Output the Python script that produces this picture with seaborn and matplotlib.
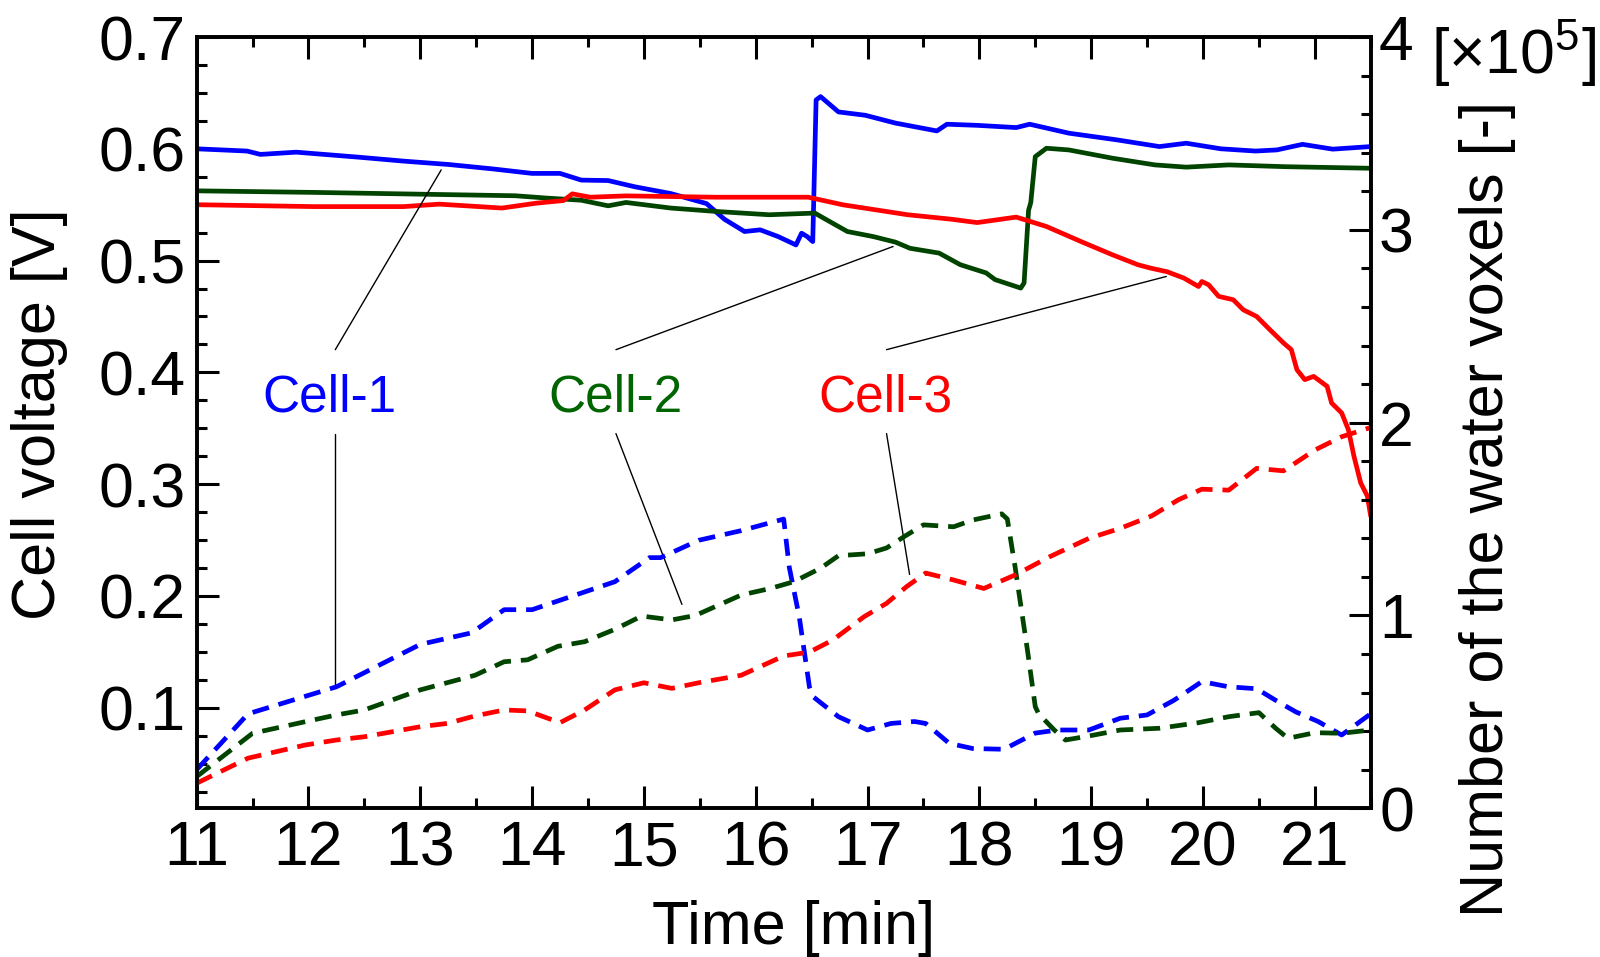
import numpy as np
import pandas as pd
import seaborn as sns
import matplotlib
matplotlib.use("Agg")
import matplotlib.pyplot as plt
from matplotlib.ticker import MultipleLocator

# cell voltage [V], solid lines
t1_volt = [11.0, 11.45, 11.57, 11.89, 12.45, 12.85, 13.25, 13.65, 14.0, 14.25,
           14.44, 14.68, 14.92, 15.24, 15.56, 15.72, 15.9, 16.04, 16.2, 16.36,
           16.41, 16.46, 16.51, 16.54, 16.58, 16.74, 16.98, 17.25, 17.62, 17.71,
           17.98, 18.33, 18.45, 18.8, 19.23, 19.61, 19.85, 20.16, 20.47, 20.66,
           20.89, 21.16, 21.5]
cell1_volt = [0.600, 0.598, 0.595, 0.597, 0.5925, 0.589, 0.586, 0.582, 0.578, 0.578,
              0.572, 0.5716, 0.566, 0.560, 0.551, 0.537, 0.526, 0.5275, 0.5215, 0.514,
              0.5245, 0.5215, 0.517, 0.6437, 0.6467, 0.633, 0.630, 0.623, 0.616, 0.622,
              0.621, 0.619, 0.622, 0.614, 0.608, 0.602, 0.605, 0.600, 0.598, 0.599,
              0.604, 0.5997, 0.602]

t2_volt = [11.0, 12.05, 13.25, 13.85, 14.12, 14.44, 14.68, 14.84, 15.24, 15.64,
           16.12, 16.5, 16.53, 16.66, 16.82, 17.05, 17.25, 17.38, 17.64, 17.83,
           18.06, 18.14, 18.37, 18.40, 18.44, 18.46, 18.50, 18.6, 18.8, 19.19,
           19.57, 19.85, 20.23, 20.74, 21.5]
cell2_volt = [0.5624, 0.561, 0.559, 0.558, 0.556, 0.554, 0.549, 0.552, 0.547, 0.544,
              0.541, 0.5424, 0.5424, 0.535, 0.526, 0.5215, 0.5165, 0.511, 0.5067, 0.4963,
              0.489, 0.483, 0.4754, 0.480, 0.545, 0.552, 0.593, 0.6005, 0.599, 0.5916,
              0.5856, 0.5836, 0.5856, 0.584, 0.5826]

t3_volt = [11.0, 12.05, 12.85, 13.17, 13.73, 14.04, 14.28, 14.36, 14.52, 14.84,
           15.64, 16.47, 16.78, 17.36, 17.75, 17.98, 18.33, 18.6, 18.91, 19.19,
           19.42, 19.53, 19.68, 19.83, 19.96, 19.99, 20.05, 20.14, 20.27, 20.36,
           20.48, 20.6, 20.72, 20.79, 20.84, 20.91, 20.99, 21.11, 21.15, 21.24,
           21.3, 21.35, 21.41, 21.47, 21.5]
cell3_volt = [0.550, 0.5483, 0.5483, 0.5505, 0.547, 0.5514, 0.5537, 0.5597, 0.5567, 0.5579,
              0.5567, 0.5567, 0.5499, 0.541, 0.537, 0.534, 0.5389, 0.5305, 0.517, 0.5052,
              0.4962, 0.4933, 0.490, 0.4843, 0.4768, 0.4813, 0.4784, 0.468, 0.465, 0.456,
              0.45, 0.438, 0.4263, 0.4203, 0.4024, 0.3935, 0.3964, 0.3875, 0.3726, 0.3637,
              0.3488, 0.325, 0.3012, 0.2893, 0.2714]

# number of water voxels [x1e5], dashed lines
t1_water = [11.0, 11.46, 12.25, 13.0, 13.46, 13.75, 14.0, 14.74, 15.05, 15.15,
            15.49, 15.87, 16.25, 16.30, 16.39, 16.48, 16.51, 16.74, 17.0, 17.21,
            17.42, 17.52, 17.73, 17.94, 18.22, 18.5, 18.7, 18.98, 19.26, 19.5,
            19.74, 19.99, 20.23, 20.48, 20.65, 20.83, 21.03, 21.24, 21.5]
cell1_water = [0.20, 0.49, 0.63, 0.85, 0.91, 1.03, 1.03, 1.175, 1.30, 1.30,
               1.39, 1.44, 1.50, 1.25, 0.99, 0.63, 0.58, 0.475, 0.406, 0.44,
               0.45, 0.44, 0.337, 0.31, 0.306, 0.39, 0.406, 0.406, 0.467, 0.484,
               0.56, 0.657, 0.63, 0.62, 0.56, 0.50, 0.45, 0.38, 0.49]

t2_water = [11.0, 11.5, 11.97, 12.25, 12.5, 13.0, 13.49, 13.75, 13.96, 14.23,
            14.47, 14.74, 14.98, 15.25, 15.46, 15.87, 16.13, 16.34, 16.58, 16.74,
            17.0, 17.17, 17.33, 17.5, 17.77, 17.94, 18.2, 18.25, 18.32, 18.43,
            18.5, 18.53, 18.67, 18.77, 18.98, 19.26, 19.61, 19.96, 20.23, 20.5,
            20.65, 20.76, 21.0, 21.24, 21.5]
cell2_water = [0.164, 0.389, 0.449, 0.484, 0.51, 0.614, 0.69, 0.76, 0.77, 0.84,
               0.864, 0.928, 0.997, 0.977, 1.0, 1.106, 1.14, 1.175, 1.245, 1.31,
               1.32, 1.35, 1.41, 1.47, 1.46, 1.495, 1.527, 1.50, 1.25, 0.82,
               0.527, 0.49, 0.406, 0.354, 0.375, 0.406, 0.415, 0.444, 0.475, 0.496,
               0.415, 0.363, 0.392, 0.389, 0.406]

t3_water = [11.0, 11.46, 11.97, 12.25, 12.5, 13.0, 13.24, 13.49, 13.75, 13.96,
            14.25, 14.47, 14.74, 15.0, 15.25, 15.49, 15.87, 16.25, 16.48, 16.69,
            16.97, 17.17, 17.35, 17.52, 17.77, 18.04, 18.32, 18.63, 18.98, 19.26,
            19.54, 19.78, 19.99, 20.23, 20.48, 20.72, 21.0, 21.24, 21.5]
cell3_water = [0.13, 0.26, 0.328, 0.354, 0.371, 0.423, 0.44, 0.479, 0.51, 0.505,
               0.444, 0.51, 0.614, 0.651, 0.622, 0.651, 0.69, 0.79, 0.81, 0.873,
               0.994, 1.063, 1.15, 1.22, 1.184, 1.14, 1.21, 1.305, 1.40, 1.452,
               1.516, 1.60, 1.655, 1.65, 1.763, 1.75, 1.858, 1.927, 1.975]

cells = ["Cell-1", "Cell-2", "Cell-3"]
line_colors = {"Cell-1": "#0000ff", "Cell-2": "#004400", "Cell-3": "#ff0000"}
text_colors = {"Cell-1": "#0000ff", "Cell-2": "#006400", "Cell-3": "#ff0000"}

df_volt = pd.concat([
    pd.DataFrame({"time": t, "value": v, "cell": c})
    for c, t, v in zip(cells, [t1_volt, t2_volt, t3_volt],
                       [cell1_volt, cell2_volt, cell3_volt])
], ignore_index=True)
df_water = pd.concat([
    pd.DataFrame({"time": t, "value": v, "cell": c})
    for c, t, v in zip(cells, [t1_water, t2_water, t3_water],
                       [cell1_water, cell2_water, cell3_water])
], ignore_index=True)

sns.set_theme(style="ticks")
plt.rcParams["font.family"] = ["Liberation Sans", "DejaVu Sans"]
plt.rcParams["mathtext.fontset"] = "custom"
plt.rcParams["mathtext.rm"] = "Liberation Sans"
plt.rcParams["axes.edgecolor"] = "black"
plt.rcParams["text.color"] = "black"
plt.rcParams["axes.labelcolor"] = "black"
plt.rcParams["xtick.color"] = "black"
plt.rcParams["ytick.color"] = "black"

fig = plt.figure(figsize=(16, 9.57), dpi=100)
ax = fig.add_axes([0.1229, 0.1554, 0.7338, 0.8059])
ax2 = ax.twinx()

sns.lineplot(data=df_volt, x="time", y="value", hue="cell", palette=line_colors,
             estimator=None, sort=False, legend=False, lw=3.4, ax=ax)
sns.lineplot(data=df_water, x="time", y="value", hue="cell", palette=line_colors,
             estimator=None, sort=False, legend=False, lw=3.4, dashes=(3.6, 2.1), ax=ax2)

ax.set_xlim(11, 21.5)
ax.set_ylim(0.01, 0.7)
ax2.set_ylim(0, 4)
ax.set_xlabel("")
ax.set_ylabel("")
ax2.set_ylabel("")

ax.xaxis.set_major_locator(MultipleLocator(1))
ax.xaxis.set_minor_locator(MultipleLocator(0.5))
ax.yaxis.set_major_locator(MultipleLocator(0.1))
ax.yaxis.set_minor_locator(MultipleLocator(0.025))
ax2.yaxis.set_major_locator(MultipleLocator(1))
ax2.yaxis.set_minor_locator(MultipleLocator(0.2))

tick_fs = 45
ax.tick_params(axis="x", which="both", direction="in", top=True, bottom=True,
               labelsize=tick_fs, pad=8)
ax.tick_params(axis="y", which="both", direction="in", left=True, right=False,
               labelsize=tick_fs, pad=8)
ax2.tick_params(axis="y", which="both", direction="in", left=False, right=True,
                labelsize=tick_fs, pad=6)
for a in (ax, ax2):
    a.tick_params(which="major", length=15.5, width=2.2)
    a.tick_params(which="minor", length=7.2, width=2.2)
    for sp in a.spines.values():
        sp.set_linewidth(2.6)
        sp.set_color("black")

ax.yaxis.set_major_formatter(matplotlib.ticker.FormatStrFormatter("%.1f"))

# label annotations: text position and leader lines (data coords of the left axis)
label_pos = {"Cell-1": (12.19, 0.365), "Cell-2": (14.75, 0.365), "Cell-3": (17.16, 0.365)}
leaders = {
    "Cell-1": [((12.24, 0.4203), (13.187, 0.5811)), ((12.24, 0.3452), (12.24, 0.118))],
    "Cell-2": [((14.75, 0.4203), (17.228, 0.5126)), ((14.75, 0.3452), (15.34, 0.1924))],
    "Cell-3": [((17.17, 0.4203), (19.672, 0.4858)), ((17.17, 0.3452), (17.376, 0.2192))],
}
for c in cells:
    x, y = label_pos[c]
    ax.text(x, y, c, color=text_colors[c], fontsize=37, ha="center", va="baseline")
    for (x0, y0), (x1, y1) in leaders[c]:
        ax.plot([x0, x1], [y0, y1], color="black", lw=1.0)

lab_fs = 44
fig.text(793.5 / 1600, 1 - 944 / 957, "Time [min]", fontsize=lab_fs,
         ha="center", va="baseline")
fig.text(40 / 1600, 1 - 414 / 957, "Cell voltage [V]", fontsize=lab_fs,
         rotation=90, ha="center", va="center")
fig.text(1488 / 1600, 1 - 509 / 957, "Number of the water voxels [-]", fontsize=lab_fs,
         rotation=90, ha="center", va="center")
fig.text(1431 / 1600, 1 - 74 / 957, r"[$\times$10$^{5}$]", fontsize=tick_fs,
         ha="left", va="baseline")

fig.savefig("out.png", dpi=100)
